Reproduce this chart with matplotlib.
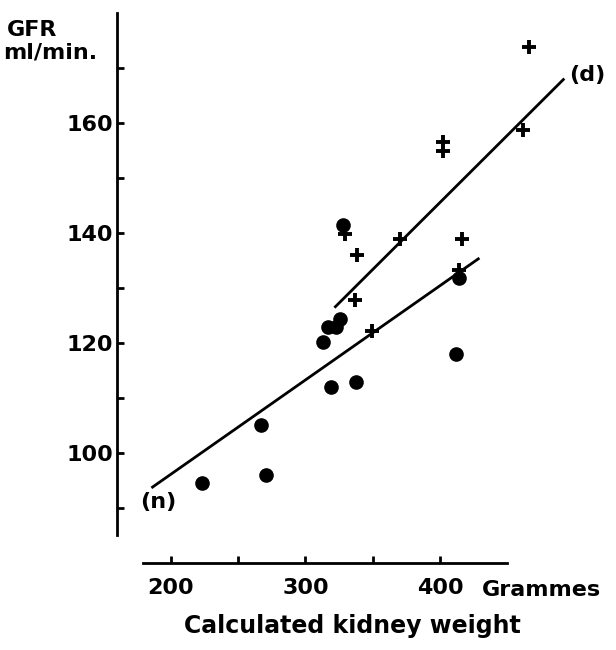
import numpy as np
import matplotlib.pyplot as plt

plt.rcParams['font.weight'] = 'bold'

# normal subjects (dots) and diabetics (crosses)
dots_x = [223, 267, 271, 313, 317, 323, 326, 319, 337.5, 328, 414.4, 412]
dots_y = [94.6, 105.1, 96.0, 120.1, 123.0, 123.0, 124.3, 112.0, 113.0, 141.5, 131.8, 118.0]
cross_x = [329.4, 338.1, 336.8, 370.3, 349.2, 402, 402, 461.5, 466.2, 416.6, 414.1]
cross_y = [139.8, 136.0, 127.8, 138.9, 122.1, 156.6, 155.0, 158.7, 173.9, 138.9, 133.3]

# fitted lines, as drawn
line_n_x = [186.4, 428.5]
line_n_y = [93.8, 135.3]
line_d_x = [322.3, 491.7]
line_d_y = [126.6, 167.9]

xticks = [200, 300, 400]
xminor = [250, 350]
yticks = [100, 120, 140, 160]
yminor = [90, 110, 130, 150, 170]

fig = plt.figure(figsize=(6.16, 6.5), dpi=100)
ax = fig.add_axes([117/616, 1-563/650, (574.5-117)/616, (563-13)/650])
ax.set_xlim(160, 500)
ax.set_ylim(80, 180)

ax.plot(line_n_x, line_n_y, color='black', lw=2)
ax.plot(line_d_x, line_d_y, color='black', lw=2)
ax.plot(dots_x, dots_y, 'o', color='black', ms=9.5, clip_on=False)
ax.plot(cross_x, cross_y, '+', color='black', ms=9.5, mew=2.8, clip_on=False)

ax.text(190.3, 91.1, '(n)', fontsize=16, ha='center', va='center')
ax.text(509.3, 168.7, '(d)', fontsize=16, ha='center', va='center')

for s in ['top', 'right']:
    ax.spines[s].set_visible(False)
ax.spines['left'].set_linewidth(2)
ax.spines['bottom'].set_linewidth(2)
ax.spines['left'].set_bounds(85.1, 180)
ax.spines['bottom'].set_bounds(179.2, 450)

ax.set_xticks(xticks)
ax.set_xticks(xminor, minor=True)
ax.set_yticks(yticks)
ax.set_yticks(yminor, minor=True)
ax.tick_params(which='both', direction='in', length=5, width=2)
ax.tick_params(axis='x', labelsize=16, pad=11)
ax.tick_params(axis='y', labelsize=16, pad=3)

fig.text(482/616, 1-590/650, 'Grammes', fontsize=16, ha='left', va='center')
fig.text(352/616, 1-626/650, 'Calculated kidney weight', fontsize=17, ha='center', va='center')
fig.text(7/616, 1-30/650, 'GFR', fontsize=16, ha='left', va='center')
fig.text(3/616, 1-53/650, 'ml/min.', fontsize=16, ha='left', va='center')

fig.savefig('out.png', dpi=100)
